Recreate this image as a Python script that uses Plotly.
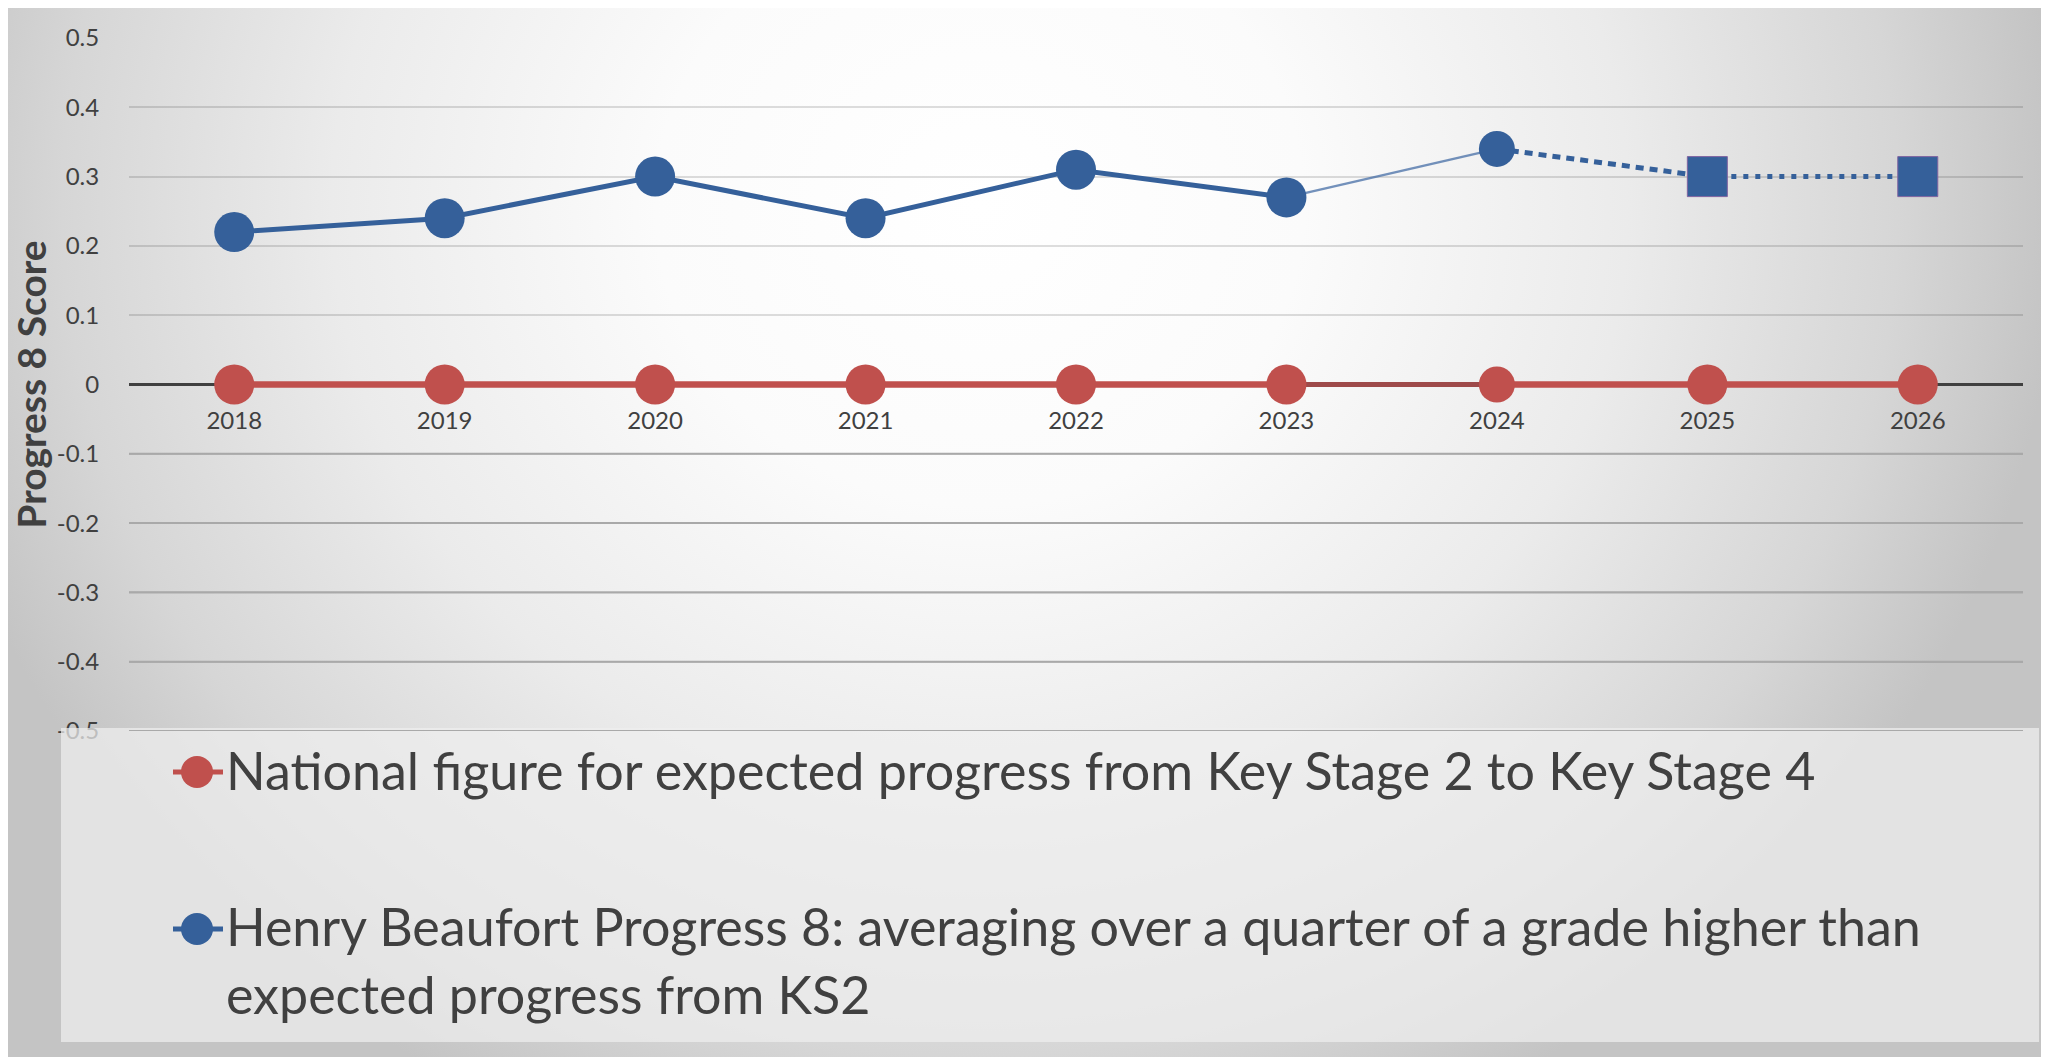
import base64
import plotly.graph_objects as go

# ---------------- data ----------------
years = ["2018", "2019", "2020", "2021", "2022", "2023", "2024", "2025", "2026"]
national = [0, 0, 0, 0, 0, 0, 0, 0, 0]
henry = [0.22, 0.24, 0.30, 0.24, 0.31, 0.27, 0.34, 0.30, 0.30]
y_tick_vals = [0.5, 0.4, 0.3, 0.2, 0.1, 0, -0.1, -0.2, -0.3, -0.4, -0.5]
y_tick_text = ["0.5", "0.4", "0.3", "0.2", "0.1", "0", "-0.1", "-0.2", "-0.3", "-0.4", "-0.5"]
national_name = "National figure for expected progress from Key Stage 2 to Key Stage 4"
henry_name = "Henry Beaufort Progress 8: averaging over a quarter of a grade higher than<br>expected progress from KS2"
y_title = "Progress 8 Score"

# ---------------- styling ----------------
RED = "#C0504D"
RED_DARK = "#9E4A4A"
BLUE = "#35609A"
BLUE_LIGHT = "rgba(70,110,165,0.75)"
TXT = "#404040"
FONT = "Lato"

# page body has an 8px margin: the figure starts at screen (8, 8)
OFF = 8
W, H = 2049 - OFF, 1057 - OFF
L, R, T, B = 129 - OFF, 26, 38 - OFF, 326
PW, PH = W - L - R, H - T - B


def px(x):  # screen x -> paper fraction
    return (x - OFF - L) / PW


def py(y):  # screen y -> paper fraction
    return (H - B - (y - OFF)) / PH


fig = go.Figure()


def seg(xs, ys, color, width, dash="solid"):
    fig.add_trace(go.Scatter(x=xs, y=ys, mode="lines", hoverinfo="skip",
                             line=dict(color=color, width=width, dash=dash),
                             showlegend=False))


# national line segments
seg(years[0:6], national[0:6], RED, 6.5)
seg(years[5:7], national[5:7], RED_DARK, 5)
seg(years[6:9], national[6:9], RED, 6.5)
# henry line segments
seg(years[0:6], henry[0:6], BLUE, 5)
seg(years[5:7], henry[5:7], BLUE_LIGHT, 2.5)
seg(years[6:8], henry[6:8], BLUE, 5, "8px,6px")
seg(years[7:9], henry[7:9], BLUE, 5, "5px,7px")

# markers
fig.add_trace(go.Scatter(
    x=years, y=national, mode="markers", name=national_name, showlegend=False,
    marker=dict(color=RED, opacity=1, size=[40, 40, 40, 40, 40, 40, 36, 40, 40],
                symbol="circle", line=dict(width=0))))
fig.add_trace(go.Scatter(
    x=years, y=henry, mode="markers", name=henry_name, showlegend=False,
    marker=dict(color=BLUE, opacity=1, size=[40, 40, 40, 40, 40, 40, 36, 40, 40],
                symbol=["circle"] * 7 + ["square"] * 2,
                line=dict(width=[0] * 7 + [1, 1], color="#8064A2"))))

# ---------------- background gradient ----------------
svg = (
    '<svg xmlns="http://www.w3.org/2000/svg" width="2049" height="1051" '
    'viewBox="0 0 2049 1051" preserveAspectRatio="none">'
    '<defs><radialGradient id="g" gradientUnits="userSpaceOnUse" cx="0" cy="0" r="1" '
    'gradientTransform="translate(980,200) scale(1080,1000)">'
    '<stop offset="0" stop-color="#ffffff"/>'
    '<stop offset="0.3" stop-color="#fbfbfb"/>'
    '<stop offset="0.6" stop-color="#ebebeb"/>'
    '<stop offset="0.85" stop-color="#d6d6d6"/>'
    '<stop offset="1" stop-color="#c4c4c4"/>'
    '</radialGradient></defs>'
    '<rect width="2049" height="1051" fill="url(#g)"/></svg>'
)
src = "data:image/svg+xml;base64," + base64.b64encode(svg.encode()).decode()

images = [dict(source=src, xref="paper", yref="paper", x=px(0), y=py(6),
               sizex=2049 / PW, sizey=(1057 - 6) / PH, sizing="stretch",
               xanchor="left", yanchor="top", layer="below")]

shapes = []
# top border line
shapes.append(dict(type="line", xref="paper", yref="paper", x0=px(0), x1=px(2049),
                   y0=py(5), y1=py(5), line=dict(color="#c6c6c6", width=2), layer="below"))
# legend box
shapes.append(dict(type="rect", xref="paper", yref="paper", x0=px(61), x1=px(2039),
                   y0=py(1042), y1=py(728), fillcolor="rgba(238,238,238,0.72)",
                   line=dict(width=0), layer="above"))
# negative gridlines (darker)
for v in y_tick_vals:
    if v < 0:
        shapes.append(dict(type="line", xref="paper", yref="y", x0=0, x1=1, y0=v, y1=v,
                           line=dict(color="#a9a9a9", width=2), layer="above"))

# legend symbols
for color, ycen in [(RED, 772), (BLUE, 929)]:
    shapes.append(dict(type="line", xref="paper", yref="paper", x0=px(173), x1=px(223),
                       y0=py(ycen), y1=py(ycen), line=dict(color=color, width=5), layer="above"))
    shapes.append(dict(type="circle", xref="paper", yref="paper", xsizemode="pixel",
                       ysizemode="pixel", xanchor=px(197), yanchor=py(ycen),
                       x0=-16, x1=16, y0=-16, y1=16, fillcolor=color,
                       line=dict(width=0), layer="above"))

annotations = [
    dict(text=national_name, xref="paper", yref="paper", x=px(224), y=py(770),
         xanchor="left", yanchor="middle", showarrow=False, align="left",
         font=dict(family=FONT, size=52, color=TXT)),
    dict(text=henry_name, xref="paper", yref="paper", x=px(224), y=py(960),
         xanchor="left", yanchor="middle", showarrow=False, align="left",
         font=dict(family=FONT, size=52, color=TXT)),
]

fig.update_layout(
    width=W, height=H,
    margin=dict(l=L, r=R, t=T, b=B, autoexpand=False),
    paper_bgcolor="#ffffff",
    plot_bgcolor="rgba(0,0,0,0)",
    showlegend=False,
    images=images,
    shapes=shapes,
    annotations=annotations,
    font=dict(family=FONT, color=TXT),
    xaxis=dict(
        type="category", range=[-0.5, 8.5], anchor="free", position=0.5,
        showgrid=False, showline=False, zeroline=False,
        ticks="outside", ticklen=15, tickcolor="rgba(0,0,0,0)",
        tickfont=dict(family=FONT, size=24, color=TXT),
    ),
    yaxis=dict(
        range=[-0.5, 0.5], tickvals=y_tick_vals, ticktext=y_tick_text,
        showgrid=True, gridcolor="rgba(0,0,0,0.13)", gridwidth=2,
        zeroline=True, zerolinecolor="#404040", zerolinewidth=3,
        ticks="outside", ticklen=24, tickcolor="rgba(0,0,0,0)",
        tickfont=dict(family=FONT, size=24, color=TXT),
        title=dict(text=y_title, standoff=8,
                   font=dict(family=FONT, size=39, color=TXT, weight="bold")),
    ),
)

fig.write_html("out.html")
